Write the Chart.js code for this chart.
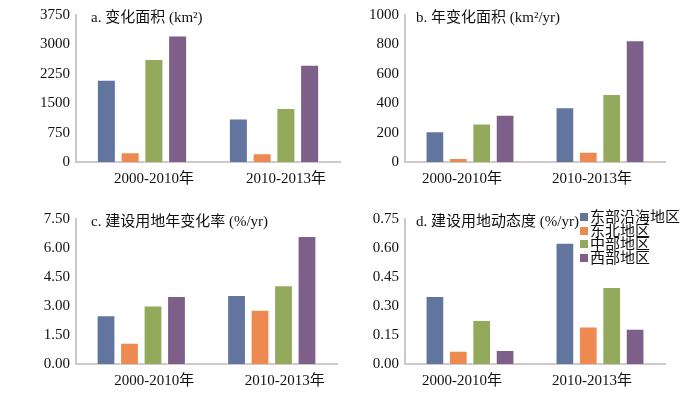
<!DOCTYPE html>
<html>
<head>
<meta charset="utf-8">
<script src="https://cdn.jsdelivr.net/npm/chart.js@4.4.1/dist/chart.umd.min.js"></script>
<style>
  body { margin: 0; background: #fff; }
  #wrap { position: relative; width: 684px; height: 393px; overflow: hidden; }
  .panel { position: absolute; }
  #legend {
    position: absolute; left: 580px; top: 211px;
    font-family: "Liberation Serif", "Noto Sans CJK SC", serif;
    font-size: 15px; line-height: 13.6px; color: #111;
  }
  #legend div { white-space: nowrap; }
  #legend span.box { display: inline-block; width: 8px; height: 8px; margin-right: 2px; vertical-align: 1px; }
</style>
</head>
<body>
<div id="wrap">
  <div class="panel" style="left:0;top:0;width:342px;height:196px"><canvas id="chartA"></canvas></div>
  <div class="panel" style="left:342px;top:0;width:342px;height:196px"><canvas id="chartB"></canvas></div>
  <div class="panel" style="left:0;top:196px;width:342px;height:197px"><canvas id="chartC"></canvas></div>
  <div class="panel" style="left:342px;top:196px;width:342px;height:197px"><canvas id="chartD"></canvas></div>
  <div id="legend"></div>
</div>
<script>
// categorias e regiões
const periods = ['2000-2010年', '2010-2013年'];
const regions = ['东部沿海地区', '东北地区', '中部地区', '西部地区'];
const colors = ['#62759f', '#ec8a52', '#93a95b', '#7e5f8a'];

// a. 变化面积 (km²)
const areaEast = [2100, 1110];
const areaNE = [250, 225];
const areaCentral = [2630, 1380];
const areaWest = [3230, 2480];

// b. 年变化面积 (km²/yr)
const yearAreaEast = [210, 373];
const yearAreaNE = [27, 70];
const yearAreaCentral = [262, 463];
const yearAreaWest = [322, 828];

// c. 建设用地年变化率 (%/yr)
const rateEast = [2.52, 3.57];
const rateNE = [1.10, 2.81];
const rateCentral = [3.03, 4.07];
const rateWest = [3.52, 6.62];

// d. 建设用地动态度 (%/yr)
const dynEast = [0.352, 0.627];
const dynNE = [0.069, 0.194];
const dynCentral = [0.228, 0.398];
const dynWest = [0.072, 0.182];

const fontFamily = '"Liberation Serif", "Noto Sans CJK SC", serif';
const axisColor = '#cfc8c8';

// plugin para desenhar o título dentro da área do gráfico
const innerTitle = {
  id: 'innerTitle',
  afterDraw(chart, args, opts) {
    const ctx = chart.ctx;
    ctx.save();
    ctx.font = '15px ' + fontFamily;
    ctx.fillStyle = '#111';
    ctx.textBaseline = 'middle';
    ctx.fillText(opts.text, chart.chartArea.left + opts.dx, chart.chartArea.top + opts.dy);
    ctx.restore();
  }
};

const makeChart = (id, title, series, yMax, step, decimals, box) => {
  const ctx = document.getElementById(id).getContext('2d');
  return new Chart(ctx, {
    type: 'bar',
    data: {
      labels: periods,
      datasets: series.map((data, i) => ({
        label: regions[i],
        data: data,
        backgroundColor: colors[i],
        borderColor: 'rgba(255,255,255,0.55)',
        borderWidth: 1,
        barPercentage: 0.8,
        categoryPercentage: 0.72
      }))
    },
    options: {
      responsive: true,
      maintainAspectRatio: false,
      animation: false,
      layout: { padding: { left: 0, right: box.right, top: box.top, bottom: 0 } },
      plugins: {
        legend: { display: false },
        tooltip: { enabled: false },
        innerTitle: { text: title, dx: box.titleX, dy: 3 }
      },
      scales: {
        x: {
          grid: { display: false, drawTicks: false },
          border: { color: axisColor, width: 2 },
          ticks: {
            color: '#111',
            font: { family: fontFamily, size: 15 },
            padding: 8,
            maxRotation: 0,
            labelOffset: box.labelShift
          },
          afterFit: (scale) => { scale.height = box.xHeight; }
        },
        y: {
          min: 0,
          max: yMax,
          grid: { display: false, drawTicks: false },
          border: { color: axisColor, width: 2 },
          ticks: {
            stepSize: step,
            color: '#111',
            font: { family: fontFamily, size: 15 },
            padding: 6,
            callback: (v) => v.toFixed(decimals)
          },
          afterFit: (scale) => { scale.width = box.yWidth; }
        }
      }
    },
    plugins: [innerTitle]
  });
};

makeChart('chartA', 'a. 变化面积 (km²)',
  [areaEast, areaNE, areaCentral, areaWest], 3750, 750, 0,
  { right: 2, top: 14, xHeight: 34, yWidth: 76, titleX: 15, labelShift: 12 });

makeChart('chartB', 'b. 年变化面积 (km²/yr)',
  [yearAreaEast, yearAreaNE, yearAreaCentral, yearAreaWest], 1000, 200, 0,
  { right: 19, top: 14, xHeight: 34, yWidth: 63, titleX: 11, labelShift: -8 });

makeChart('chartC', 'c. 建设用地年变化率 (%/yr)',
  [rateEast, rateNE, rateCentral, rateWest], 7.5, 1.5, 2,
  { right: 5, top: 23, xHeight: 29, yWidth: 76, titleX: 15, labelShift: 13 });

makeChart('chartD', 'd. 建设用地动态度 (%/yr)',
  [dynEast, dynNE, dynCentral, dynWest], 0.75, 0.15, 2,
  { right: 19, top: 23, xHeight: 29, yWidth: 63, titleX: 11, labelShift: -8 });

// legenda em HTML
const legendEl = document.getElementById('legend');
regions.forEach((name, i) => {
  const row = document.createElement('div');
  row.innerHTML = '<span class="box" style="background:' + colors[i] + '"></span>' + name;
  legendEl.appendChild(row);
});
</script>
</body>
</html>
